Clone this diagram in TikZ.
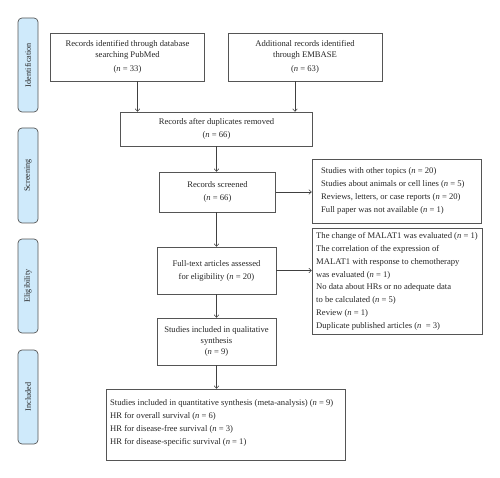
\documentclass[tikz,border=0pt]{standalone}
\usepackage{fontspec}
\setmainfont{Liberation Serif}
\usetikzlibrary{arrows.meta}
\definecolor{sidefill}{HTML}{CFEAFB}
\definecolor{edge}{HTML}{555555}
\begin{document}
\begin{tikzpicture}[x=1pt,y=-1pt,
  every node/.style={font=\fontsize{8.6}{10.4}\selectfont, text=black!85},
  side/.style={draw=edge, fill=sidefill, rounded corners=4pt, line width=0.7pt,
    minimum width=20pt, minimum height=94pt, inner sep=0pt},
  sidetext/.style={rotate=90, font=\fontsize{8.2}{9}\selectfont\addfontfeature{Ligatures=CommonOff}},
  box/.style={draw=edge, line width=0.7pt, inner sep=0pt, align=center},
  listbox/.style={draw=edge, line width=0.7pt, inner sep=0pt},
  arr/.style={draw=black!75, line width=0.6pt, -{To[length=3pt,width=5pt]}}]
\useasboundingbox (0,0) rectangle (500,478);
% side labels
\node[side] (sid) at (28,65) {};
\node[sidetext] (sidt) at (sid.center) {Identification};
\node[side, minimum height=95pt] (sscr) at (28,175.5) {};
\node[sidetext] (sscrt) at (sscr.center) {Screening};
\node[side] (seli) at (28,286) {};
\node[sidetext] (selit) at (seli.center) {Eligibility};
\node[side] (sinc) at (28,397) {};
\node[sidetext] (sinct) at (sinc.center) {Included};
% boxes
\node[box, minimum width=154pt, minimum height=48pt] (b1) at (127.5,57)
  {Records identified through database\\searching PubMed\\[3.5pt](\textit{n} = 33)};
\node[box, minimum width=154pt, minimum height=48pt] (b2) at (305,57)
  {Additional records identified\\through EMBASE\\[3.5pt](\textit{n} = 63)};
\node[box, minimum width=192pt, minimum height=34pt] (dup) at (216.5,129)
  {Records after duplicates removed\\[2.5pt](\textit{n} = 66)};
\node[box, minimum width=116pt, minimum height=40pt] (scr) at (217.5,192)
  {Records screened\\[2.5pt](\textit{n} = 66)};
\node[listbox, minimum width=169pt, minimum height=64pt] (ex1) at (396.5,191) {};
\node[anchor=west, align=left, inner sep=0pt, font=\fontsize{8.6}{12.8}\selectfont] (ex1t) at (321,191)
  {Studies with other topics (\textit{n} = 20)\\
   Studies about animals or cell lines (\textit{n} = 5)\\
   Reviews, letters, or case reports (\textit{n} = 20)\\
   Full paper was not available (\textit{n} = 1)};
\node[box, minimum width=119pt, minimum height=47pt] (ft) at (216.5,270.5)
  {Full-text articles assessed\\[2.5pt]for eligibility (\textit{n} = 20)};
\node[listbox, minimum width=170pt, minimum height=106pt] (ex2) at (397,281) {};
\node[anchor=west, align=left, inner sep=0pt, font=\fontsize{8.6}{12.75}\selectfont] (ex2t) at (316,281.5)
  {The change of MALAT1 was evaluated (\textit{n} = 1)\\
   The correlation of the expression of\\
   MALAT1 with response to chemotherapy\\
   was evaluated (\textit{n} = 1)\\
   No data about HRs or no adequate data\\
   to be calculated (\textit{n} = 5)\\
   Review (\textit{n} = 1)\\
   Duplicate published articles (\textit{n}\ \ = 3)};
\node[box, minimum width=119pt, minimum height=47pt] (qual) at (216.5,341.5)
  {Studies included in qualitative\\synthesis\\[1pt](\textit{n} = 9)};
\node[listbox, minimum width=239pt, minimum height=71pt] (fin) at (225.5,424.5) {};
\node[anchor=west, align=left, inner sep=0pt, font=\fontsize{8.6}{12.8}\selectfont] (fint) at (110,423)
  {Studies included in quantitative synthesis (meta-analysis) (\textit{n} = 9)\\
   HR for overall survival (\textit{n} = 6)\\
   HR for disease-free survival (\textit{n} = 3)\\
   HR for disease-specific survival (\textit{n} = 1)};
% connectors
\draw[arr] ([xshift=10pt]b1.south) -- ([xshift=10pt]b1.south |- dup.north);
\draw[arr] ([xshift=-10pt]b2.south) -- ([xshift=-10pt]b2.south |- dup.north);
\draw[arr] (dup.south) -- (dup.south |- scr.north);
\draw[arr] (dup.south |- scr.south) -- (dup.south |- ft.north);
\draw[arr] (dup.south |- ft.south) -- (dup.south |- qual.north);
\draw[arr] (dup.south |- qual.south) -- (dup.south |- fin.north);
\draw[arr] (scr.east) -- (scr.east -| ex1.west);
\draw[arr] (ft.east) -- (ft.east -| ex2.west);
\end{tikzpicture}
\end{document}
